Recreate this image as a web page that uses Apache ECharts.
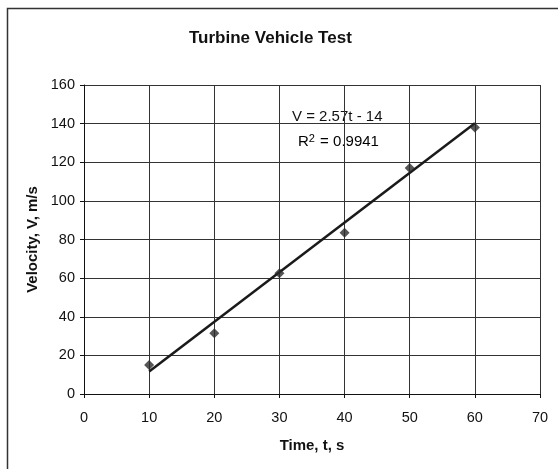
<!DOCTYPE html>
<html><head><meta charset="utf-8">
<script src="https://cdn.jsdelivr.net/npm/echarts@6/dist/echarts.min.js"></script>
<style>html,body{margin:0;padding:0;background:#fff}#c{width:558px;height:469px}</style>
</head><body><div id="c"></div>
<script>
const times = [10, 20, 30, 40, 50, 60];
const velocities = [15, 31.5, 62.5, 83.5, 117, 138];
const trendTimes = [10, 60];
const trendValues = [11.7, 140.2];
const titleText = 'Turbine Vehicle Test';
const eqText = 'V = 2.57t - 14';
const r2Parts = ['R', '2', ' = 0.9941'];

const chart = echarts.init(document.getElementById('c'));
const font = 'Arial, "Liberation Sans", sans-serif';
chart.setOption({
  animation: false,
  backgroundColor: '#fff',
  title: {text: titleText, left: 184, top: 25,
    textStyle: {fontFamily: font, fontWeight: 'bold', fontSize: 17, color: '#111'}},
  grid: {left: 84, right: 18, top: 85, bottom: 75},
  xAxis: {type: 'value', min: 0, max: 70, interval: 10,
    name: 'Time, t, s', nameLocation: 'middle', nameGap: 44,
    nameTextStyle: {fontFamily: font, fontWeight: 'bold', fontSize: 15, color: '#111'},
    axisLine: {onZero: false, lineStyle: {color: '#111', width: 1}},
    axisTick: {show: true, length: 4, inside: false, lineStyle: {color: '#111'}},
    axisLabel: {fontFamily: font, fontSize: 14.5, color: '#111', margin: 16},
    splitLine: {show: true, lineStyle: {color: '#333', width: 1}}},
  yAxis: {type: 'value', min: 0, max: 160, interval: 20,
    name: 'Velocity, V, m/s', nameLocation: 'middle', nameGap: 43,
    nameTextStyle: {fontFamily: font, fontWeight: 'bold', fontSize: 15, color: '#111'},
    axisLine: {show: true, lineStyle: {color: '#111', width: 1}},
    axisTick: {show: true, length: 4, lineStyle: {color: '#111'}},
    axisLabel: {fontFamily: font, fontSize: 14.5, color: '#111', margin: 9},
    splitLine: {show: true, lineStyle: {color: '#333', width: 1}}},
  series: [
    {type: 'line', data: trendTimes.map((t, i) => [t, trendValues[i]]),
      showSymbol: false, lineStyle: {color: '#1a1a1a', width: 2.5}, z: 3},
    {type: 'scatter', data: times.map((t, i) => [t, velocities[i]]),
      symbol: 'diamond', symbolSize: 10, itemStyle: {color: '#2a2a2a'}, z: 4}
  ],
  graphic: [
    {type: 'rect', shape: {x: 7.5, y: 8.5, width: 600, height: 500},
      style: {fill: 'none', stroke: '#333', lineWidth: 1.5}, silent: true},
    {type: 'text', left: 292, top: 109, style: {text: eqText, font: '15px ' + font, fill: '#111', backgroundColor: '#fff'}},
    {type: 'text', left: 298, top: 129, style: {
      text: '{a|' + r2Parts[0] + '}{s|' + r2Parts[1] + '}{a|' + r2Parts[2] + '}',
      backgroundColor: '#fff',
      rich: {
        a: {fontFamily: font, fontSize: 15, color: '#111', lineHeight: 20, verticalAlign: 'bottom'},
        s: {fontFamily: font, fontSize: 11, color: '#111', lineHeight: 20, verticalAlign: 'bottom', padding: [0, 1, 5, 0]}
      }}}
  ]
});
</script></body></html>
